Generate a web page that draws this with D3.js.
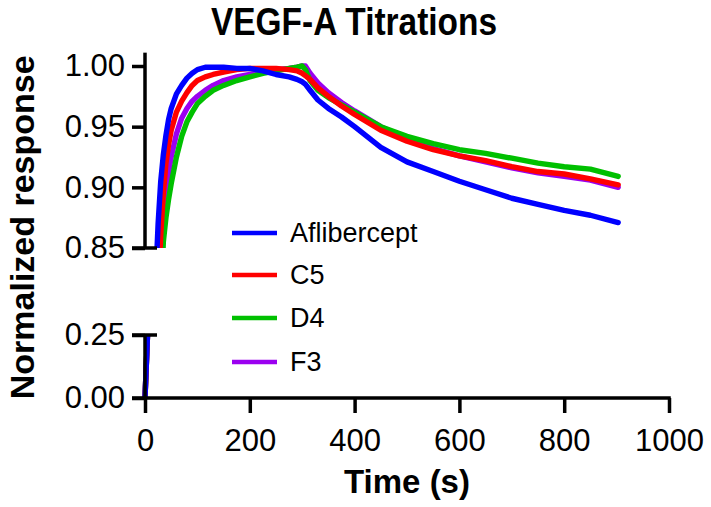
<!DOCTYPE html>
<html>
<head>
<meta charset="utf-8">
<script src="https://cdn.jsdelivr.net/npm/d3@7"></script>
<style>
  html, body { margin: 0; padding: 0; background: #fff; }
  svg { display: block; }
  text { font-family: "Liberation Sans", Arial, Helvetica, sans-serif; fill: #000; }
</style>
</head>
<body>
<svg id="chart" width="711" height="507"></svg>
<script>
// ---------- data ----------
const title = "VEGF-A Titrations";
const xLabel = "Time (s)";
const yLabel = "Normalized response";
const seriesNames = ["Aflibercept", "C5", "D4", "F3"];
const seriesColors = ["#0000ff", "#ff0000", "#00c000", "#9b00f0"];

const times = [0, 5, 15, 20, 25, 30, 35, 40, 45, 50, 60, 70, 80, 90, 100, 115, 130, 150, 175, 200,
  225, 250, 275, 290, 300, 306, 315, 330, 350, 375, 400, 450, 500, 550, 600, 650, 700, 750, 800, 850, 903];

const aflibercept = [0.00, 0.26, 0.70, 0.82, 0.87, 0.905, 0.927, 0.943, 0.956, 0.965, 0.977, 0.984, 0.990, 0.994, 0.997, 0.999, 0.999, 0.999, 0.998, 0.998,
  0.996, 0.993, 0.991, 0.989, 0.987, 0.985, 0.980, 0.972, 0.965, 0.958, 0.950, 0.933, 0.921, 0.913, 0.905, 0.898, 0.891, 0.886, 0.881, 0.877, 0.871];
const c5 = [0.00, 0.26, 0.60, 0.72, 0.81, 0.86, 0.895, 0.920, 0.935, 0.947, 0.962, 0.971, 0.978, 0.984, 0.988, 0.991, 0.993, 0.995, 0.997, 0.998,
  0.998, 0.998, 0.997, 0.996, 0.994, 0.992, 0.989, 0.982, 0.975, 0.967, 0.960, 0.947, 0.938, 0.931, 0.926, 0.922, 0.917, 0.913, 0.911, 0.907, 0.902];
const d4 = [0.00, 0.26, 0.50, 0.62, 0.72, 0.80, 0.855, 0.875, 0.890, 0.903, 0.925, 0.942, 0.954, 0.962, 0.969, 0.975, 0.980, 0.984, 0.988, 0.991,
  0.994, 0.996, 0.998, 0.999, 1.000, 0.997, 0.988, 0.980, 0.974, 0.968, 0.962, 0.950, 0.942, 0.936, 0.931, 0.928, 0.924, 0.920, 0.917, 0.915, 0.909];
const f3 = [0.00, 0.26, 0.55, 0.67, 0.77, 0.84, 0.875, 0.895, 0.912, 0.925, 0.944, 0.957, 0.965, 0.971, 0.975, 0.980, 0.984, 0.988, 0.991, 0.993,
  0.995, 0.997, 0.998, 0.999, 1.000, 1.000, 0.994, 0.986, 0.978, 0.970, 0.963, 0.950, 0.940, 0.932, 0.926, 0.921, 0.916, 0.912, 0.909, 0.906, 0.900];

const xTicks = [0, 200, 400, 600, 800, 1000];
const yTicksUpper = [0.85, 0.90, 0.95, 1.00];
const yTicksLower = [0.00, 0.25];

// ---------- layout ----------
const svg = d3.select("#chart");
const x = d3.scaleLinear().domain([0, 1000]).range([145, 669]);
const yU = d3.scaleLinear().domain([0.85, 1.00]).range([248, 66]);
const yL = d3.scaleLinear().domain([0, 0.25]).range([398, 335]);
const upperTop = 1.011;

const seriesVals = [aflibercept, c5, d4, f3];
const drawOrder = [3, 2, 1, 0];

// clip paths
const defs = svg.append("defs");
defs.append("clipPath").attr("id", "clipU").append("rect")
  .attr("x", 130).attr("y", yU(upperTop)).attr("width", 560).attr("height", yU(0.85) - yU(upperTop));
defs.append("clipPath").attr("id", "clipL").append("rect")
  .attr("x", 130).attr("y", yL(0.25)).attr("width", 560).attr("height", yL(0) - yL(0.25));

function drawSegment(yScale, clipId) {
  const g = svg.append("g").attr("clip-path", `url(#${clipId})`);
  const line = d3.line().x((d, i) => x(times[i])).y(d => yScale(d));
  drawOrder.forEach(k => {
    g.append("path")
      .attr("d", line(seriesVals[k]))
      .attr("fill", "none")
      .attr("stroke", seriesColors[k])
      .attr("stroke-width", 5.4)
      .attr("stroke-linejoin", "round")
      .attr("stroke-linecap", "round");
  });
}
drawSegment(yU, "clipU");
drawSegment(yL, "clipL");

// axes
const axW = 3.5;
const fontSize = 31;

const gyU = svg.append("g").attr("transform", `translate(${x(0)},0)`)
  .call(d3.axisLeft(yU).tickValues(yTicksUpper).tickFormat(d3.format(".2f")).tickSize(13).tickPadding(7));
const gyL = svg.append("g").attr("transform", `translate(${x(0)},0)`)
  .call(d3.axisLeft(yL).tickValues(yTicksLower).tickFormat(d3.format(".2f")).tickSize(13).tickPadding(7));
const gx = svg.append("g").attr("transform", `translate(0,${yL(0)})`)
  .call(d3.axisBottom(x).tickValues(xTicks).tickFormat(d3.format("d")).tickSize(15).tickPadding(16));

[gyU, gyL, gx].forEach(g => {
  g.select(".domain").remove();
  g.selectAll(".tick line").attr("stroke", "#000").attr("stroke-width", axW);
  g.selectAll(".tick text").attr("font-size", fontSize).attr("font-family", "Liberation Sans, Arial, sans-serif").attr("fill", "#000");
});

// axis lines with break markers
const ax = svg.append("g").attr("stroke", "#000").attr("stroke-width", axW).attr("fill", "none");
ax.append("line").attr("x1", x(0)).attr("x2", x(0)).attr("y1", yU(upperTop)).attr("y2", yU(0.85));
ax.append("line").attr("x1", x(0) - 13).attr("x2", x(0) + 12).attr("y1", yU(0.85)).attr("y2", yU(0.85));
ax.append("line").attr("x1", x(0)).attr("x2", x(0)).attr("y1", yL(0.25)).attr("y2", yL(0));
ax.append("line").attr("x1", x(0) - 13).attr("x2", x(0) + 12).attr("y1", yL(0.25)).attr("y2", yL(0.25));
ax.append("line").attr("x1", x(0) - 13).attr("x2", x(1000) + axW / 2).attr("y1", yL(0)).attr("y2", yL(0));

// titles
svg.append("text").attr("transform", "translate(354,35) scale(0.88,1)").attr("text-anchor", "middle")
  .attr("font-size", 38).attr("font-weight", "bold").text(title);
svg.append("text").attr("x", (x(0) + x(1000)) / 2).attr("y", 493).attr("text-anchor", "middle")
  .attr("font-size", 33).attr("font-weight", "bold").text(xLabel);
svg.append("text").attr("transform", `translate(34,${(yU(upperTop) + yL(0)) / 2 + 2}) rotate(-90)`)
  .attr("text-anchor", "middle").attr("font-size", 34).attr("font-weight", "bold").text(yLabel);

// legend
const legendY = [233, 275, 318, 362];
const lg = svg.append("g");
seriesNames.forEach((name, i) => {
  lg.append("line").attr("x1", 232).attr("x2", 277).attr("y1", legendY[i]).attr("y2", legendY[i])
    .attr("stroke", seriesColors[i]).attr("stroke-width", 4.5);
  lg.append("text").attr("x", 290).attr("y", legendY[i]).attr("dy", "0.35em")
    .attr("font-size", 27).text(name);
});
</script>
</body>
</html>
